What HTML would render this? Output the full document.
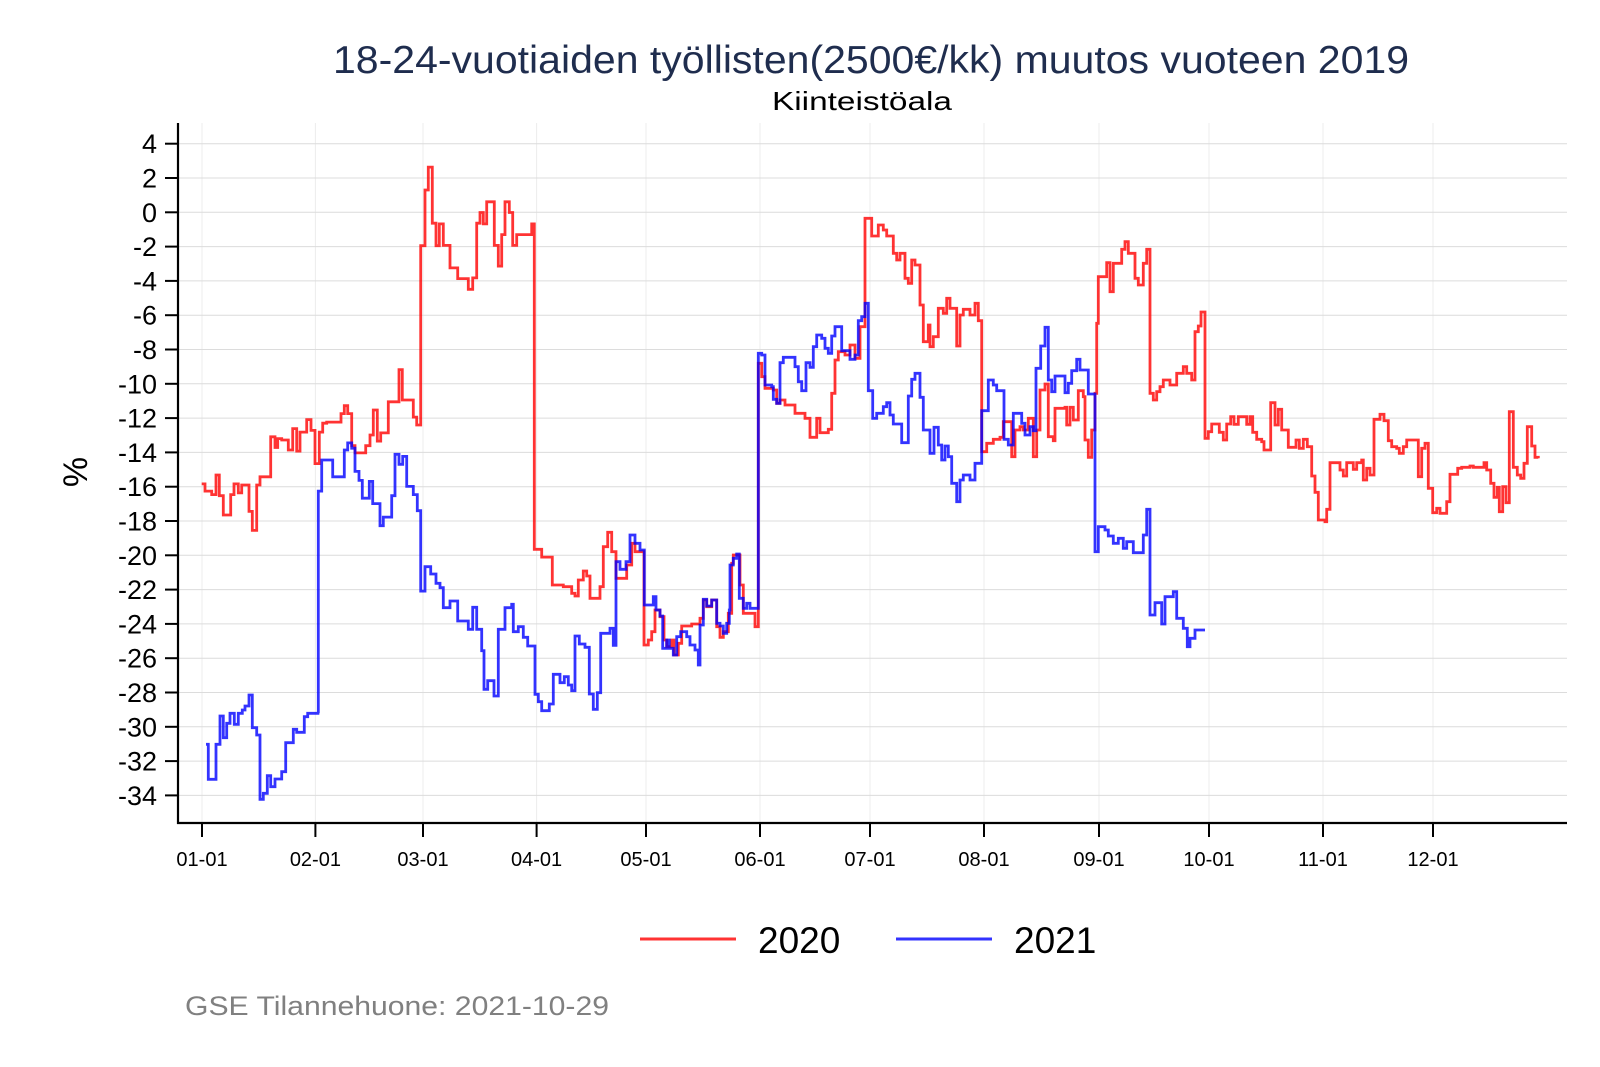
<!DOCTYPE html>
<html><head><meta charset="utf-8">
<style>
html,body{margin:0;padding:0;background:#fff;}
svg{display:block;font-family:"Liberation Sans",Arial,sans-serif;}
</style></head>
<body>
<svg id="s" width="1600" height="1067" viewBox="0 0 1600 1067" xmlns="http://www.w3.org/2000/svg">
<rect width="1600" height="1067" fill="#fff"/>
<text x="871" y="73" text-anchor="middle" font-size="39" fill="#1f2d4e" textLength="1076" lengthAdjust="spacingAndGlyphs">18-24-vuotiaiden työllisten(2500€/kk) muutos vuoteen 2019</text>
<text x="862" y="110" text-anchor="middle" font-size="26" fill="#000" textLength="180" lengthAdjust="spacingAndGlyphs">Kiinteistöala</text>
<g id="grid"></g>
<g id="axes"></g>
<path id="red" fill="none" stroke="rgba(255,0,0,0.8)" stroke-width="2.8" stroke-linejoin="miter"/>
<path id="blue" fill="none" stroke="rgba(0,0,255,0.8)" stroke-width="2.8" stroke-linejoin="miter"/>
<text x="78" y="472" text-anchor="middle" font-size="34" transform="rotate(-90 78 472)" dominant-baseline="middle">%</text>
<line x1="640" y1="939" x2="736" y2="939" stroke="rgba(255,0,0,0.8)" stroke-width="3"/>
<text x="758" y="953" font-size="37">2020</text>
<line x1="896" y1="939" x2="992" y2="939" stroke="rgba(0,0,255,0.8)" stroke-width="3"/>
<text x="1014" y="953" font-size="37">2021</text>
<text x="185" y="1015" font-size="27" fill="#808080" textLength="424" lengthAdjust="spacingAndGlyphs">GSE Tilannehuone: 2021-10-29</text>
</svg>
<script>
(function(){
var NS="http://www.w3.org/2000/svg";
function el(p,t,a,txt){var e=document.createElementNS(NS,t);for(var k in a)e.setAttribute(k,a[k]);if(txt!==undefined)e.textContent=txt;p.appendChild(e);return e;}
var grid=document.getElementById('grid'),axes=document.getElementById('axes');
function Y(v){return 212.3-17.15*v;}
var L=178,R=1567,T=123,B=823;
var mx=[202,315.4,423,536.6,646,760,870,984,1099,1209,1323,1433];
var ml=["01-01","02-01","03-01","04-01","05-01","06-01","07-01","08-01","09-01","10-01","11-01","12-01"];
mx.forEach(function(x){el(grid,'line',{x1:x,x2:x,y1:T,y2:B,stroke:'#ececec','stroke-width':1});});
for(var v=4;v>=-34;v-=2){var y=Y(v);
 el(grid,'line',{x1:L,x2:R,y1:y,y2:y,stroke:'#dcdcdc','stroke-width':1});
 el(axes,'line',{x1:165,x2:L,y1:y,y2:y,stroke:'#000','stroke-width':2});
 el(axes,'text',{x:157,y:y+9.5,'text-anchor':'end','font-size':27},String(v));}
el(axes,'line',{x1:L,x2:L,y1:T,y2:B+1,stroke:'#000','stroke-width':2.2});
el(axes,'line',{x1:L-1,x2:R,y1:B,y2:B,stroke:'#000','stroke-width':2.2});
mx.forEach(function(x,i){el(axes,'line',{x1:x,x2:x,y1:B,y2:B+14,stroke:'#000','stroke-width':2});
 el(axes,'text',{x:x,y:866,'text-anchor':'middle','font-size':20},ml[i]);});

function conv(pts,X0,Y0,sx,sy){return pts.map(function(p){return [X0+p[0]/sx,Y0+p[1]/sy];});}
function path(list){var d='M'+list[0][0].toFixed(1)+' '+list[0][1].toFixed(1);
 for(var i=1;i<list.length;i++){d+='H'+list[i][0].toFixed(1)+'V'+list[i][1].toFixed(1);}return d;}

var r1=[[65,935],[75,955],[95,965],[108,910],[118,968],[130,1022],[152,965],[162,935],[175,960],[185,938],[207,1012],[217,1065],[230,938],[240,915],[272,803],[285,833],[293,808],[305,812],[325,840],[338,780],[350,843],[360,790],[380,755],[393,785],[405,878],[418,790],[428,765],[440,762],[483,738],[493,716],[503,738],[515,828],[525,848],[557,828],[570,798],[580,728],[592,815],[602,792],[625,705],[657,615],[667,700],[700,748],[710,770],[722,268],[735,112],[745,48],[757,205],[768,268],[778,207],[790,267],[810,330],[833,360],[865,390],[878,358],[890,205],[900,175],[910,207],[920,145],[943,267],[955,325],[965,237],[975,145],[988,175],[998,267],[1010,237],[1055,207],[1063,1118],[1085,1140],[1117,1218]];
var r2=[[130,260],[155,280],[165,288],[175,240],[190,213],[200,228],[210,295],[240,260],[250,140],[263,97],[275,155],[288,235],[320,195],[335,130],[345,155],[372,435],[385,420],[395,395],[405,330],[420,350],[432,420],[440,440],[455,420],[462,465],[475,430],[485,378],[500,378],[515,372],[540,355],[550,300],[560,320],[575,300],[590,380],[600,412],[610,395],[625,340],[635,190],[640,165]];
var r3=[[30,1155],[40,1240],[75,1280],[85,490],[95,530],[105,565],[130,570],[140,610],[150,600],[165,615],[195,640],[215,640],[225,655],[240,712],[260,655],[270,698],[295,688],[305,580],[315,480],[325,455],[345,465],[360,435],[375,475],[390,380],[405,55],[425,108],[445,75],[460,90],[470,108],[490,160],[500,180],[510,160],[525,235],[535,250],[545,180],[555,195],[570,315],[580,425],[595,375],[600,440],[610,410],[625,325],[640,340],[650,295],[660,325],[680,438],[690,345],[700,328],[720,345],[735,310],[745,362],[755,755],[770,730],[790,718],[810,712],[820,665],[835,665],[845,770],[855,690],[870,680],[880,690],[895,655],[910,770],[920,690],[930,570],[945,552],[955,710],[970,722],[975,625],[1005,622],[1010,675],[1020,622],[1030,660],[1045,572],[1060,590],[1065,720],[1075,772],[1085,690],[1095,580],[1100,370],[1105,230],[1130,188],[1140,275],[1150,190],[1175,148],[1185,125],[1195,160],[1215,235],[1225,255],[1240,190],[1250,148],[1260,580],[1270,600],[1280,575],[1290,560],[1300,540],[1320,555],[1340,520],[1360,500],[1370,520],[1385,540],[1395,395],[1405,378]];
var r4=[[75,175],[85,155],[95,132],[118,157],[130,180],[140,132],[152,110],[162,133],[175,110],[200,133],[210,110],[218,157],[230,178],[245,185],[252,210],[272,68],[285,135],[295,88],[305,150],[325,202],[348,180],[358,205],[370,178],[382,200],[395,288],[405,337],[415,420],[435,425],[440,388],[450,248],[470,248],[480,270],[490,288],[500,248],[520,268],[530,248],[545,240],[550,300],[560,265],[570,285],[582,118],[600,103],[612,122],[625,182],[635,200],[650,205],[658,220],[670,200],[680,180],[715,290],[725,205],[735,190],[745,325],[758,398],[770,385],[780,400],[800,365],[810,283],[833,265],[845,262],[870,258],[880,262],[912,248],[920,270],[932,310],[942,352],[952,322],[958,395],[968,320],[978,368],[988,95],[1000,262],[1012,285],[1022,295],[1032,250],[1042,140],[1055,198],[1065,232],[1075,235]];
var red=[].concat(conv(r1,180,150,3,2.8),conv(r2,520,500,3,3),conv(r3,730,200,3,3),[[1201,312]],conv(r4,1180,380,3,3));
document.getElementById('red').setAttribute('d',path(red));

var b7a=[[48,553],[55,658],[78,553],[90,468],[100,533],[110,490],[120,460],[133,493],[145,460],[157,450],[165,438],[177,405],[187,503],[200,525],[210,718],[220,700],[232,647],[242,680],[255,657],[275,635],[287,548],[310,508],[320,517],[343,470],[353,460],[388,460]];
var b1=[[415,955],[425,868],[458,915],[493,840],[503,820],[515,835],[525,900],[537,925],[547,975],[568,928],[578,990],[600,1052],[610,1028],[635,968],[645,852],[657,880],[668,858],[680,942],[700,965],[712,1010],[722,1235]];
var b7b=[[705,20],[722,42],[738,70],[750,83],[760,143],[780,123],[803,183],[835,208],[848,142],[860,208],[875,272],[882,388],[893,362],[912,408],[925,208],[945,143],[965,133],[970,215],[985,200],[1000,232],[1013,258],[1035,403],[1045,425],[1055,452],[1078,432],[1090,343]];
var b2=[[120,548],[133,530],[145,555],[155,572],[165,408],[178,432],[195,442],[208,582],[220,628],[232,578],[242,400],[270,385],[280,436],[288,185],[300,208],[318,185],[330,105],[345,130],[360,150],[373,315],[400,290],[408,330],[420,348],[428,445],[440,420],[448,445],[460,465],[470,410],[482,395],[500,410],[510,435],[525,450],[535,495],[540,375],[550,298],[560,318],[575,300],[590,370],[600,378],[610,400],[620,370],[628,330],[630,195],[640,175],[650,162],[658,295],[670,325],[680,310],[690,325]];
var b3=[[85,460],[95,465],[105,555],[125,560],[130,598],[140,610],[150,488],[160,472],[195,500],[205,545],[215,572],[228,488],[240,502],[250,440],[260,405],[275,415],[285,445],[295,460],[305,408],[315,380],[335,452],[360,478],[375,465],[385,362],[395,350],[405,310],[415,572],[428,655],[440,640],[460,620],[470,608],[480,645],[490,672],[515,728],[535,588],[545,538],[555,520],[570,592],[580,690],[600,760],[612,682],[625,735],[635,780],[645,738],[655,770],[665,850],[680,905],[690,840],[700,825],[720,840],[735,790],[755,632],[775,540],[790,555],[800,572],[822,718],[835,735],[850,640],[875,670],[885,705],[900,680],[910,692],[918,505],[932,438],[945,382],[955,540],[965,575],[975,528],[1005,578],[1015,550],[1025,512],[1040,478],[1050,510],[1075,582],[1095,1055],[1105,980],[1125,990],[1135,1008],[1150,1030],[1165,1015],[1180,1045],[1190,1025],[1210,1058],[1240,1005],[1250,928],[1260,1245],[1275,1208],[1295,1272],[1305,1190],[1330,1175],[1340,1255],[1360,1285],[1372,1340],[1380,1315],[1395,1290],[1425,1290]];
var blue=[].concat(conv(b7a,190,560,3,3),conv(b1,180,150,3,2.8),conv(b7b,190,560,3,3),conv(b2,520,500,3,3),conv(b3,730,200,3,3));
document.getElementById('blue').setAttribute('d',path(blue));
})();
</script>
</body></html>
